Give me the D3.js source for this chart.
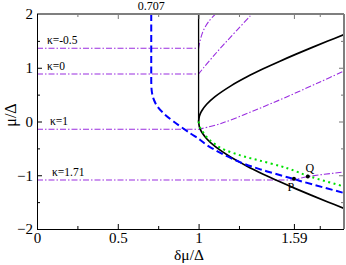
<!DOCTYPE html>
<html>
<head>
<meta charset="utf-8">
<script src="https://cdn.jsdelivr.net/npm/d3@7"></script>
<style>
html,body{margin:0;padding:0;background:#fff;}
svg{display:block;}
text{font-family:"Liberation Serif","Times New Roman",serif;fill:#000;}
</style>
</head>
<body>
<svg id="chart" width="346" height="265"></svg>
<script>
// ---- data ----
const xMajorTicks = [0, 0.5, 1, 1.59];
const xMinorTicks = [0.25, 0.75, 1.25, 1.75];
const yMajorTicks = [-2, -1, 0, 1, 2];
const yMinorTicks = [-1.5, -0.5, 0.5, 1.5];
const topLabel = "0.707";
const topLabelValue = 0.707;

// black phase boundary: vertical at δμ=1 and the two branches
const blackVertX = [1, 1];
const blackVertY = [0, 2];
const blackX = [1, 1.005, 1.01, 1.02, 1.05, 1.1, 1.2, 1.3, 1.4, 1.5, 1.6, 1.7, 1.8, 1.9];
const blackUpperY = [0, 0.1, 0.142, 0.201, 0.32, 0.458, 0.663, 0.831, 0.98, 1.118, 1.249, 1.375, 1.497, 1.616];
const blackLowerY = [0, -0.1, -0.142, -0.201, -0.32, -0.458, -0.663, -0.831, -0.98, -1.118, -1.249, -1.375, -1.497, -1.616];

// blue dashed line
const blueX = [0.707, 0.707, 0.709, 0.714, 0.724, 0.745, 0.783, 0.845, 0.949, 1.0105, 1.052, 1.135, 1.259, 1.382, 1.507, 1.59, 1.651, 1.9];
const blueY = [2.0, 0.75, 0.6, 0.5, 0.4, 0.28, 0.153, 0.0, -0.22, -0.344, -0.44, -0.585, -0.76, -0.89, -1.0, -1.07, -1.125, -1.33];

// green dotted line
const greenX = [1.0, 1.0105, 1.031, 1.062, 1.093, 1.135, 1.259, 1.382, 1.507, 1.569, 1.676, 1.9];
const greenY = [0.0, -0.12, -0.21, -0.33, -0.40, -0.49, -0.63, -0.73, -0.83, -0.89, -1.01, -1.21];

// purple dash-dot κ curves
const kappaLabels = ["κ=-0.5", "κ=0", "κ=1", "κ=1.71"];
const kappaX = [
  [0, 1, 1.0105, 1.031, 1.062, 1.104],
  [0, 1, 1.031, 1.093, 1.155, 1.238, 1.331],
  [0, 1, 1.135, 1.341, 1.548, 1.755, 1.9],
  [0, 1.59, 1.676, 1.9]
];
const kappaY = [
  [1.362, 1.362, 1.516, 1.702, 1.857, 2.0],
  [0.884, 0.884, 1.0, 1.22, 1.43, 1.70, 2.0],
  [-0.145, -0.145, -0.04, 0.2, 0.461, 0.74, 0.94],
  [-1.088, -1.088, -1.025, -0.94]
];

// marked points
const pointNames = ["P", "Q"];
const pointX = [1.59, 1.676];
const pointY = [-1.065, -1.025];

// ---- drawing ----
const FONT = "'Liberation Serif','Times New Roman',serif";
const svg = d3.select("#chart");
const L = 37, R = 344, T = 14, B = 229;
const x = d3.scaleLinear().domain([0, 1.9]).range([L, R]);
const y = d3.scaleLinear().domain([-2, 2]).range([B, T]);

svg.append("defs").append("clipPath").attr("id", "clip")
  .append("rect").attr("x", L).attr("y", T).attr("width", R - L).attr("height", B - T);

const plot = svg.append("g").attr("clip-path", "url(#clip)");
const line = d3.line().x(d => x(d[0])).y(d => y(d[1]));
const smooth = d3.line().x(d => x(d[0])).y(d => y(d[1])).curve(d3.curveCatmullRom.alpha(0.5));
const zip = (a, b) => a.map((v, i) => [v, b[i]]);
// straight first segment followed by a smooth curve
const joined = pts => line(pts.slice(0, 2)) + smooth(pts.slice(1)).replace(/^M/, "L");

const purple = "#9a2ee0";
kappaX.forEach((xs, k) => {
  plot.append("path").attr("d", joined(zip(xs, kappaY[k])))
    .attr("fill", "none").attr("stroke", purple).attr("stroke-width", 1.1)
    .attr("stroke-dasharray", "6,2,1.5,2");
});

// black
plot.append("path").attr("d", line(zip(blackVertX, blackVertY)))
  .attr("fill", "none").attr("stroke", "#000").attr("stroke-width", 1.3);
plot.append("path").attr("d", smooth(zip(blackX, blackUpperY)))
  .attr("fill", "none").attr("stroke", "#000").attr("stroke-width", 1.7);
plot.append("path").attr("d", smooth(zip(blackX, blackLowerY)))
  .attr("fill", "none").attr("stroke", "#000").attr("stroke-width", 1.7);

// green dotted
plot.append("path").attr("d", smooth(zip(greenX, greenY)))
  .attr("fill", "none").attr("stroke", "#00e000").attr("stroke-width", 2)
  .attr("stroke-dasharray", "2,3.5");

// blue dashed
plot.append("path").attr("d", joined(zip(blueX, blueY)))
  .attr("fill", "none").attr("stroke", "#0000ff").attr("stroke-width", 2)
  .attr("stroke-dasharray", "7,3.5");

// points
pointX.forEach((px, i) => {
  svg.append("circle").attr("cx", x(px)).attr("cy", y(pointY[i])).attr("r", 2).attr("fill", "#000");
});
svg.append("text").attr("x", x(pointX[0]) - 3).attr("y", y(pointY[0]) + 12)
  .attr("text-anchor", "middle").style("font-family", FONT).attr("font-size", 12).text(pointNames[0]);
svg.append("text").attr("x", x(pointX[1]) + 2).attr("y", y(pointY[1]) - 5)
  .attr("text-anchor", "middle").style("font-family", FONT).attr("font-size", 12).text(pointNames[1]);

// κ labels
const kLabelX = [47, 47, 50, 52];
kappaLabels.forEach((t, k) => {
  svg.append("text").attr("x", kLabelX[k]).attr("y", y(kappaY[k][0]) - 4)
    .style("font-family", FONT).attr("font-size", 11.5).text(t);
});

// axes
const fmt = d => d3.format("")(d);
const gB = svg.append("g").attr("transform", `translate(0,${B})`)
  .call(d3.axisBottom(x).tickValues(xMajorTicks).tickSizeInner(-5).tickSizeOuter(0).tickPadding(3).tickFormat(fmt));
const gBm = svg.append("g").attr("transform", `translate(0,${B})`)
  .call(d3.axisBottom(x).tickValues(xMinorTicks).tickSizeInner(-3).tickSizeOuter(0).tickFormat(""));
const gT = svg.append("g").attr("transform", `translate(0,${T})`)
  .call(d3.axisTop(x).tickValues(xMajorTicks).tickSizeInner(-5).tickSizeOuter(0).tickFormat(""));
const gTm = svg.append("g").attr("transform", `translate(0,${T})`)
  .call(d3.axisTop(x).tickValues(xMinorTicks).tickSizeInner(-3).tickSizeOuter(0).tickFormat(""));
const gL = svg.append("g").attr("transform", `translate(${L},0)`)
  .call(d3.axisLeft(y).tickValues(yMajorTicks).tickSizeInner(-5).tickSizeOuter(0).tickPadding(4).tickFormat(fmt));
const gLm = svg.append("g").attr("transform", `translate(${L},0)`)
  .call(d3.axisLeft(y).tickValues(yMinorTicks).tickSizeInner(-3).tickSizeOuter(0).tickFormat(""));
const gR = svg.append("g").attr("transform", `translate(${R},0)`)
  .call(d3.axisRight(y).tickValues(yMajorTicks).tickSizeInner(-5).tickSizeOuter(0).tickFormat(""));
const gRm = svg.append("g").attr("transform", `translate(${R},0)`)
  .call(d3.axisRight(y).tickValues(yMinorTicks).tickSizeInner(-3).tickSizeOuter(0).tickFormat(""));

[gB, gBm, gT, gTm, gL, gLm, gR, gRm].forEach(g => g.select(".domain").remove());
[gT, gTm, gR, gRm].forEach(g => g.selectAll("line").attr("stroke", "#777"));
[gB, gL].forEach(g => g.attr("font-size", 15)
  .selectAll("text").style("font-family", FONT).attr("fill", "#000"));

// frame
svg.append("line").attr("x1", L).attr("x2", R).attr("y1", T).attr("y2", T)
  .attr("stroke", "#7f7f7f").attr("stroke-width", 2);
svg.append("line").attr("x1", R).attr("x2", R).attr("y1", T).attr("y2", B)
  .attr("stroke", "#7f7f7f").attr("stroke-width", 2);
svg.append("line").attr("x1", L + 0.5).attr("x2", L + 0.5).attr("y1", T).attr("y2", B + 0.5)
  .attr("stroke", "#000").attr("stroke-width", 1);
svg.append("line").attr("x1", L).attr("x2", R).attr("y1", B + 0.5).attr("y2", B + 0.5)
  .attr("stroke", "#000").attr("stroke-width", 1);

// top label 0.707
svg.append("text").attr("x", x(topLabelValue)).attr("y", 10)
  .attr("text-anchor", "middle").style("font-family", FONT).attr("font-size", 12).text(topLabel);

// axis titles
svg.append("text").attr("x", 189).attr("y", 259.5)
  .attr("text-anchor", "middle").style("font-family", FONT).attr("font-size", 15.5).text("δμ/Δ");
svg.append("text").attr("transform", "translate(16,115) rotate(-90)")
  .attr("text-anchor", "middle").style("font-family", FONT).attr("font-size", 16).text("μ/Δ");
</script>
</body>
</html>
